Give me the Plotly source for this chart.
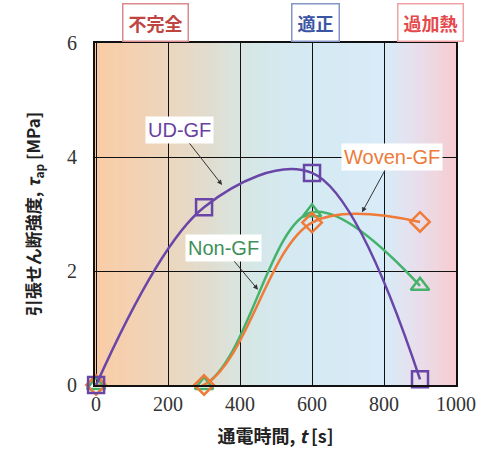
import plotly.graph_objects as go

# Energising time [s] and lap-shear strength [MPa]
time_s = [0, 300, 600, 900]
ud_gf = [0.0, 3.12, 3.72, 0.10]
non_gf = [0.0, 0.0, 3.03, 1.74]
woven_gf = [0.0, 0.0, 2.85, 2.86]

x_ticks = [0, 200, 400, 600, 800, 1000]
y_ticks = [0, 2, 4, 6]

# Background colour stops along the time axis (heating regimes)
bg_stops = [
    (0, (250, 204, 165)),
    (200, (236, 214, 190)),
    (300, (226, 220, 205)),
    (420, (214, 230, 228)),
    (520, (212, 233, 240)),
    (800, (216, 235, 248)),
    (870, (228, 226, 240)),
    (1000, (248, 204, 210)),
]


def bg_color(x):
    for (x0, c0), (x1, c1) in zip(bg_stops[:-1], bg_stops[1:]):
        if x0 <= x <= x1:
            f = (x - x0) / (x1 - x0)
            return "rgb({},{},{})".format(*[round(a + (b - a) * f) for a, b in zip(c0, c1)])
    return "rgb({},{},{})".format(*bg_stops[-1][1])


fig = go.Figure()

shapes = []
x_lo, x_hi = -3, 1000
n_strips = 80
step = (x_hi - x_lo) / n_strips
for i in range(n_strips):
    xa = x_lo + i * step
    xb = min(x_hi, xa + step * 2)
    shapes.append(dict(type="rect", xref="x", yref="y domain", x0=xa, x1=xb,
                       y0=0, y1=1, fillcolor=bg_color(xa + step / 2),
                       line=dict(width=0), layer="below"))

series = [
    ("Non-GF", non_gf, "#45b26b", "triangle-up-open", 16),
    ("Woven-GF", woven_gf, "#f07a38", "diamond-open", 15),
    ("UD-GF", ud_gf, "#6a45a8", "square-open", 16),
]
for name, vals, color, sym, size in series:
    fig.add_trace(go.Scatter(
        x=time_s, y=vals, name=name, mode="lines+markers",
        line=dict(color=color, width=2.5, shape="spline", smoothing=1.0),
        marker=dict(symbol=sym, size=size, color=color, line=dict(width=2.5, color=color)),
        cliponaxis=False, showlegend=False,
    ))

annotations = []
# Series labels with pointer arrows
for text, color, x, y, ax, ay in [
    ("UD-GF", "#6a3fa0", 350, 3.51, -43, -55),
    ("Woven-GF", "#ee7a3a", 739, 3.03, 30, -55),
    ("Non-GF", "#3f8f5a", 450, 1.67, -35, -42),
]:
    annotations.append(dict(
        x=x, y=y, xref="x", yref="y", ax=ax, ay=ay, text=text, showarrow=True,
        arrowhead=2, arrowsize=1, arrowwidth=1, arrowcolor="#333",
        font=dict(family="Liberation Sans", size=20, color=color),
        bgcolor="white", borderpad=2,
    ))

# Regime labels above the plot
for text, color, border, x in [
    ("不完全", "#c0443f", "#d98a8c", 164),
    ("適正", "#3b55a5", "#8496c6", 611),
    ("過加熱", "#e5484d", "#f0a2a4", 930),
]:
    annotations.append(dict(
        x=x, y=1.06, xref="x", yref="paper", text="<b>" + text + "</b>", showarrow=False,
        yanchor="middle",
        font=dict(family="Noto Sans CJK JP", size=18, color=color),
        bgcolor="white", bordercolor=border, borderwidth=1.5, borderpad=5,
    ))

tick_font = dict(family="Liberation Serif", size=20, color="#333")
fig.update_layout(
    width=489, height=463,
    margin=dict(l=95, r=33, t=43, b=78),
    paper_bgcolor="white", plot_bgcolor="white",
    shapes=shapes, annotations=annotations,
    xaxis=dict(range=[x_lo, x_hi], tickvals=x_ticks, ticktext=[str(v) for v in x_ticks],
               showgrid=True, gridcolor="#111", gridwidth=1, zeroline=False,
               showline=True, linecolor="#111", linewidth=2, mirror=True,
               ticks="", tickfont=tick_font, layer="above traces",
               title=dict(text="<b>通電時間, <i>t</i> [s]</b>", standoff=16,
                          font=dict(family="Noto Sans CJK JP", size=18, color="#222"))),
    yaxis=dict(range=[0, 6], tickvals=y_ticks, ticktext=[str(v) for v in y_ticks],
               showgrid=True, gridcolor="#111", gridwidth=1, zeroline=False,
               showline=True, linecolor="#111", linewidth=2, mirror=True,
               ticks="", tickfont=tick_font, ticklabelstandoff=12, layer="above traces",
               title=dict(text="<b>引張せん断強度, <i>τ</i><sub>ap</sub> [MPa]</b>", standoff=22,
                          font=dict(family="Noto Sans CJK JP", size=17, color="#222"))),
)

fig.write_html("out.html")
